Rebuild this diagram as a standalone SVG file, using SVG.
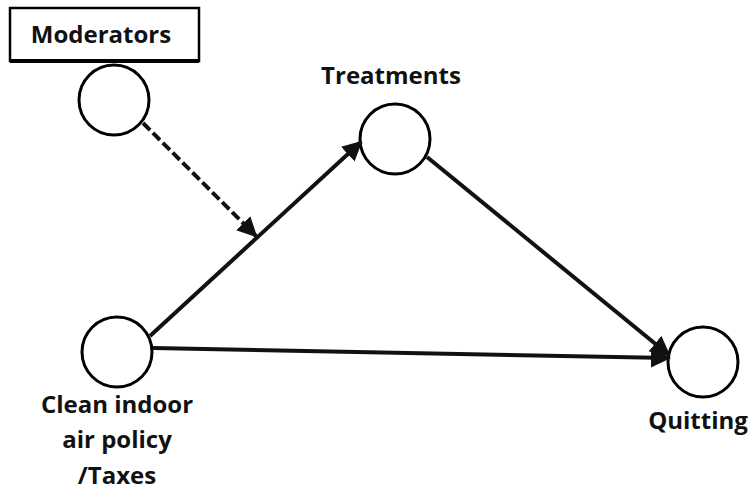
<svg xmlns="http://www.w3.org/2000/svg" width="753" height="497" viewBox="0 0 753 497">
<style>
.node circle{fill:#fff;stroke:#000;stroke-width:3}
.lbl{font-family:"Open Sans","Liberation Sans",sans-serif;font-weight:bold;font-size:24px;fill:#111}
.edge{stroke:#111;stroke-width:4;fill:none}
</style>
<defs>
<marker id="ah" viewBox="0 0 10 10" refX="9" refY="5" markerWidth="5" markerHeight="5" orient="auto" markerUnits="strokeWidth">
<path d="M0,0 L10,5 L0,10 z" fill="#111"/>
</marker>
</defs>
<rect width="753" height="497" fill="#fff"/>
<g id="moderators">
<rect x="10" y="8" width="189" height="53" fill="#fff" stroke="#000" stroke-width="2.5"/>
<line x1="10" y1="61" x2="199" y2="61" stroke="#000" stroke-width="4"/>
<text class="lbl" x="101" y="43" text-anchor="middle" font-size="25">Moderators</text>
<circle cx="114" cy="100" r="35" fill="#fff" stroke="#000" stroke-width="3"/>
</g>
<g id="treatments" class="node">
<text class="lbl" x="391" y="84" text-anchor="middle">Treatments</text>
<circle cx="395" cy="139" r="35"/>
</g>
<g id="clean" class="node">
<circle cx="117" cy="352" r="35"/>
<text class="lbl" x="117" y="413" text-anchor="middle">Clean indoor</text>
<text class="lbl" x="117" y="448" text-anchor="middle">air policy</text>
<text class="lbl" x="117" y="484" text-anchor="middle" font-weight="600">/Taxes</text>
</g>
<g id="quitting" class="node">
<circle cx="703" cy="362" r="35"/>
<text class="lbl" x="698" y="429" text-anchor="middle" font-size="23">Quitting</text>
</g>
<g id="connectors">
<line class="edge" x1="143" y1="123" x2="256" y2="236" stroke-width="5" stroke-dasharray="10,4" marker-end="url(#ah)"/>
<line class="edge" x1="150" y1="336" x2="361" y2="142" marker-end="url(#ah)"/>
<line class="edge" x1="427" y1="157" x2="669" y2="355" marker-end="url(#ah)"/>
<line class="edge" x1="153" y1="348" x2="669" y2="358" marker-end="url(#ah)"/>
</g>
</svg>
